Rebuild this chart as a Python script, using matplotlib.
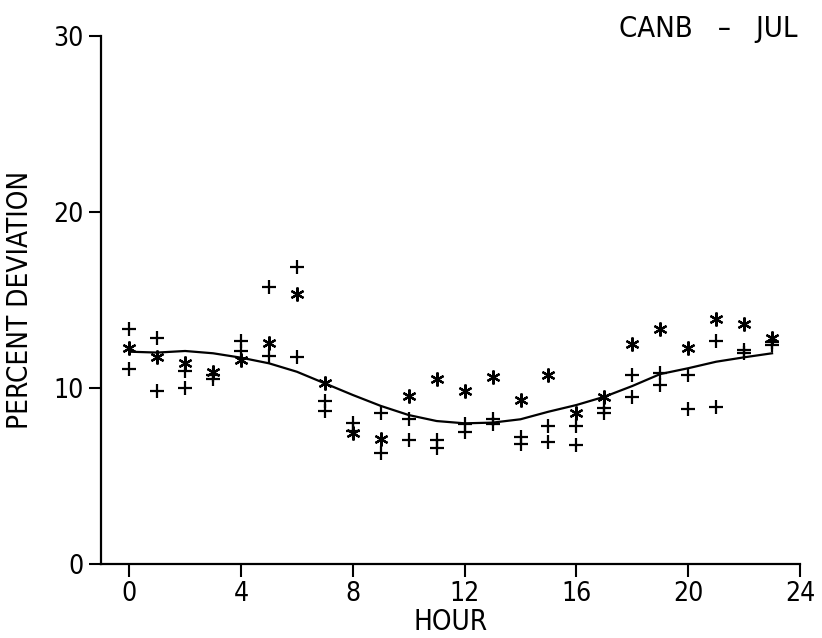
import matplotlib
matplotlib.use("Agg")
import matplotlib.pyplot as plt
import numpy as np

hours = list(range(24))
star_vals = [12.27, 11.80, 11.42, 10.94, 11.61, 12.56, 15.34, 10.28, 7.44, 7.12,
             9.56, 10.53, 9.85, 10.66, 9.34, 10.76, 8.58, 9.49, 12.50, 13.37,
             12.27, 13.94, 13.65, 12.84]
plus_a = [13.39, 12.84, 10.98, 10.76, 12.70, 15.77, 16.88, 9.30, 8.01, 8.58,
          8.24, 7.06, 7.97, 8.24, 7.25, 7.86, 7.86, 8.86, 10.74, 10.89,
          10.74, 12.69, 12.18, 12.65]
plus_b = [11.10, 9.83, 10.00, 10.53, 12.14, 11.85, 11.80, 8.69, 7.60, 6.34,
          7.06, 6.59, 7.53, 7.95, 6.82, 6.97, 6.78, 8.58, 9.52, 10.17,
          8.84, 8.92, 11.99, 12.46]
fit_curve = [12.08, 12.03, 12.12, 11.99, 11.74, 11.42, 10.94, 10.28, 9.62, 9.00,
             8.48, 8.14, 8.01, 8.05, 8.24, 8.67, 9.05, 9.52, 10.13, 10.81,
             11.14, 11.51, 11.76, 11.99]
xticks = [0, 4, 8, 12, 16, 20, 24]
yticks = [0, 10, 20, 30]

plt.rcParams['font.family'] = ['DejaVu Sans']
plt.rcParams['font.stretch'] = 'condensed'

fig = plt.figure(figsize=(8.22, 6.38), dpi=100)
ax = fig.add_axes([100.7/822, 1-564.3/638, (800-100.7)/822, (564.3-36.3)/638])

ax.plot(hours, fit_curve, color='black', lw=1.6)
ax.plot(hours, plus_a, linestyle='none', marker='+', color='black', ms=10, mew=1.6)
ax.plot(hours, plus_b, linestyle='none', marker='+', color='black', ms=10, mew=1.6)
ax.plot(hours, star_vals, linestyle='none', marker=(6, 2, 0), color='black', ms=10, mew=1.6)

ax.set_xlim(-1.02, 24)
ax.set_ylim(0, 30)
ax.set_xticks(xticks)
ax.set_yticks(yticks)
for s in ['top', 'right']:
    ax.spines[s].set_visible(False)
for s in ['left', 'bottom']:
    ax.spines[s].set_linewidth(1.6)
ax.tick_params(axis='both', direction='out', length=9, width=1.5, labelsize=19, pad=3)

ax.set_xlabel('HOUR', fontsize=20, labelpad=1)
ax.set_ylabel('PERCENT DEVIATION', fontsize=20, labelpad=14)

fig.text(797/822, 1-37/638, 'CANB   \u2013   JUL', ha='right', va='baseline', fontsize=21)

fig.savefig('out.png', dpi=100)
